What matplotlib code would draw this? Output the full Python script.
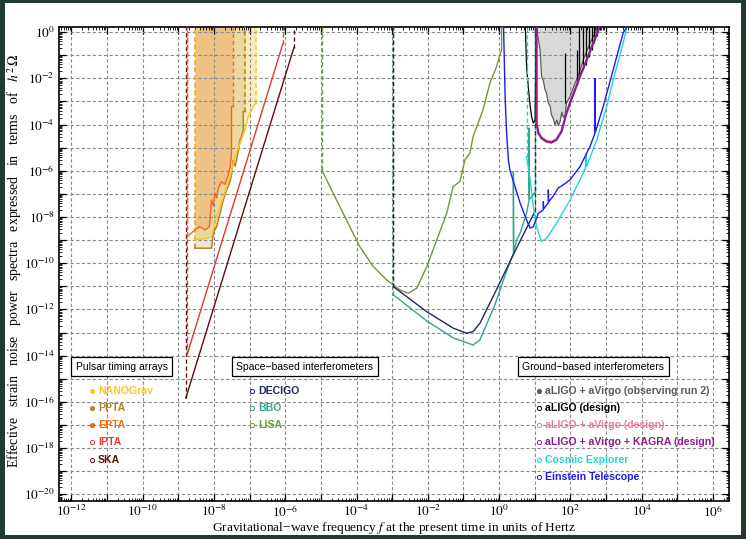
import numpy as np
import matplotlib
matplotlib.use('Agg')
import matplotlib.pyplot as plt
from matplotlib.patches import Rectangle
from matplotlib.ticker import FixedLocator, LogLocator, FuncFormatter, NullFormatter

plt.rcParams['font.family'] = ['Liberation Serif', 'DejaVu Serif']
plt.rcParams['mathtext.fontset'] = 'stix'

# all curves: log10(f / Hz) and log10(h^2 Omega)
# ---- pulsar timing arrays
nanograv_logf = [-8.54, -8.30, -8.07, -7.93, -7.74, -7.55, -7.41, -7.27, -7.13, -7.04, -6.90, -6.82]
nanograv_logomega = [-8.99, -8.95, -8.85, -7.98, -7.12, -6.25, -5.39, -4.81, -4.23, -3.65, -3.22, -3.07]
ppta_logf = [-8.54, -8.07, -8.02, -7.93, -7.83, -7.74, -7.65, -7.55, -7.51, -7.46, -7.41, -7.37,
             -7.32, -7.27, -7.23, -7.18, -7.18, -7.12]
ppta_logomega = [-9.35, -9.35, -8.70, -8.42, -7.84, -7.26, -6.83, -6.47, -6.18, -5.53, -5.82, -5.53,
                 -5.17, -4.66, -4.52, -4.23, -3.44, -3.44]
epta_logf = [-8.75, -8.54, -8.41, -8.25, -8.13, -8.07, -8.02, -7.97, -7.93, -7.88, -7.79, -7.70,
             -7.60, -7.55, -7.51, -7.51, -7.48]
epta_logomega = [-8.85, -8.56, -8.42, -8.56, -8.42, -7.26, -7.52, -6.96, -7.20, -6.75, -6.47, -6.60,
                 -6.18, -5.82, -5.30, -3.22, -3.22]
ipta_logf = [-8.75, -6.07]
ipta_logomega = [-13.93, -0.51]
ska_logf = [-8.79, -5.76]
ska_logomega = [-15.83, -0.68]

# ---- space-based interferometers
lisa_logf = [-4.98, -4.75, -4.47, -4.19, -3.91, -3.53, -3.16, -2.78, -2.55, -2.31, -2.03, -1.75,
             -1.47, -1.29, -1.10, -0.96, -0.82, -0.73, -0.59, -0.45, -0.26, -0.07, 0.02, 0.07, 0.07]
lisa_logomega = [-5.96, -6.68, -7.55, -8.42, -9.28, -10.15, -10.72, -11.16, -11.30, -11.08, -10.15, -8.99,
                 -7.84, -6.68, -6.47, -5.53, -5.24, -4.52, -3.94, -3.36, -2.21, -1.49, -0.98, -0.77, 0.5]
decigo_logf = [-2.97, -2.03, -1.29, -0.91, -0.73, -0.54, -0.12, 0.35, 1.01]
decigo_logomega = [-11.01, -12.10, -12.81, -13.03, -12.96, -12.60, -11.29, -9.78, -7.74]
bbo_logf = [-2.97, -2.03, -1.29, -0.73, -0.54, -0.12, 0.17, 0.40, 0.40, 0.41, 0.49, 0.59, 0.77,
            0.84, 0.84, 0.85, 0.96, 1.01]
bbo_logomega = [-11.37, -12.50, -13.23, -13.54, -13.32, -11.81, -10.51, -9.57, -6.03, -9.55, -8.99, -8.70,
                -7.84, -7.26, -4.14, -7.24, -7.04, -6.91]

# ---- ground-based interferometers
o2_logf = [1.05, 1.08, 1.15, 1.19, 1.24, 1.29, 1.33, 1.38, 1.43, 1.47, 1.52, 1.57, 1.62, 1.66, 1.71,
           1.76, 1.80, 1.85, 1.89, 1.99, 2.13, 2.22, 2.36, 2.55, 2.74, 2.77]
o2_logomega = [0.5, -0.12, -0.77, -1.92, -2.10, -2.50, -2.65, -3.07, -3.20, -3.58, -3.75, -4.01, -3.80,
               -4.05, -3.87, -3.45, -3.70, -3.58, -3.07, -2.79, -2.21, -1.92, -1.20, -0.48, 0.10, 0.53]
aligo_logf = [0.73, 0.77, 0.85, 0.91, 0.96, 1.01, 1.04]
aligo_logomega = [0.5, -1.49, -2.93, -3.65, -3.94, -3.80, 0.5]
aligo_line_logf = [1.85, 2.18, 2.25, 2.36, 2.44, 2.51, 2.60, 2.66, 2.75, 2.83]
aligo_line_low = [-3.07, -2.28, -1.94, -1.50, -1.41, -1.07, -0.77, -0.48, -0.17, 0.10]
aligo_line_high = [-0.90, -0.77, 0.5, 0.5, 0.5, 0.5, 0.5, 0.5, 0.5, 0.5]
hlv_logf = [1.05, 1.05, 1.10, 1.19, 1.33, 1.47, 1.61, 1.75, 1.89, 1.99, 2.13, 2.27, 2.46, 2.64, 2.83, 2.89]
hlv_logomega = [0.5, -3.89, -4.32, -4.54, -4.69, -4.73, -4.61, -4.25, -3.46, -3.02, -2.45, -1.87,
                -1.15, -0.43, 0.29, 0.55]
hlvk_logf = [1.05, 1.05, 1.10, 1.19, 1.33, 1.47, 1.61, 1.75, 1.89, 1.99, 2.13, 2.27, 2.46, 2.64, 2.83, 2.89]
hlvk_logomega = [0.5, -3.94, -4.37, -4.59, -4.74, -4.78, -4.66, -4.30, -3.51, -3.07, -2.50, -1.92,
                 -1.20, -0.48, 0.24, 0.53]
ce_logf = [0.77, 0.87, 0.96, 1.05, 1.19, 1.33, 1.61, 1.99, 2.36, 2.42, 2.44, 2.45, 2.74, 3.02, 3.20,
           3.48, 3.58, 3.61]
ce_logomega = [-5.39, -6.39, -7.55, -8.42, -9.06, -8.92, -8.27, -7.26, -6.10, -5.87, -5.24, -5.83, -4.66,
               -3.22, -2.06, -0.48, 0.19, 0.53]
et_logf = [0.12, 0.17, 0.21, 0.26, 0.30, 0.40, 0.59, 0.77, 0.87, 0.96, 1.10, 1.24, 1.24, 1.25, 1.38,
           1.38, 1.39, 1.52, 1.66, 1.80, 1.99, 2.27, 2.55, 2.69, 2.69, 2.70, 2.92, 3.20, 3.48, 3.62]
et_logomega = [0.5, -2.93, -4.37, -5.53, -5.96, -6.47, -7.40, -8.13, -8.48, -8.42, -7.84, -7.69, -7.33,
               -7.65, -7.39, -6.82, -7.35, -7.09, -6.74, -6.61, -6.39, -5.82, -4.95, -4.37, -1.99, -4.33,
               -3.22, -1.63, -0.04, 0.32]

# legend groups
pta_labels = ['NANOGrav', 'PPTA', 'EPTA', 'IPTA', 'SKA']
pta_colors = ['#fbc52c', '#b5832c', '#f26b1d', '#e2382b', '#5c0f0f']
pta_filled = [True, True, True, False, False]
space_labels = ['DECIGO', 'BBO', 'LISA']
space_colors = ['#1f2a5e', '#2fa78c', '#6c9a3f']
ground_labels = ['aLIGO + aVirgo (observing run 2)', 'aLIGO (design)', 'aLIGO + aVirgo (design)',
                 'aLIGO + aVirgo + KAGRA (design)', 'Cosmic Explorer', 'Einstein Telescope']
ground_colors = ['#5a5a5a', '#000000', '#e47f98', '#8c1d8c', '#1fd6d6', '#1c1cf5']
ground_filled = [True, False, False, False, False, False]

XLIM = (10 ** -12.35, 10 ** 6.45)
YLIM = (10 ** -20.29, 10 ** 0.22)
DASH = (0, (3, 2))

fig = plt.figure(figsize=(7.46, 5.39), dpi=100)
ax = fig.add_axes([59 / 746, 1 - 501 / 539, 670 / 746, 474 / 539])
ax.set_xscale('log')
ax.set_yscale('log')


def arr(logv):
    return 10.0 ** np.asarray(logv, dtype=float)


def curve(logf, logom, color, lw=1.0, left=False, right=False, zorder=3):
    f, om = arr(logf), arr(logom)
    ax.plot(f, om, color=color, lw=lw, zorder=zorder, solid_joinstyle='miter')
    # off-scale part of the band edges
    if left:
        ax.plot([f[0], f[0]], [om[0], YLIM[1]], color=color, lw=lw, ls=DASH, zorder=zorder)
    if right:
        ax.plot([f[-1], f[-1]], [om[-1], YLIM[1]], color=color, lw=lw, ls=DASH, zorder=zorder)


def shade(logf, logom, color, alpha, start=0):
    f, om = arr(logf)[start:], arr(logom)[start:]
    ax.fill_between(f, om, YLIM[1], color=color, alpha=alpha, lw=0, zorder=1)


# shaded regions (current PTA limits and O2)
shade(nanograv_logf, nanograv_logomega, pta_colors[0], 0.32)
shade(ppta_logf, ppta_logomega, pta_colors[1], 0.2)
shade(epta_logf, epta_logomega, pta_colors[2], 0.2, start=1)
ax.fill_between(arr(o2_logf), arr(o2_logomega), YLIM[1], color='#d9d9d9', lw=0, zorder=1)

# PTA curves
curve(ska_logf, ska_logomega, pta_colors[4], left=True, right=True)
curve(ipta_logf, ipta_logomega, pta_colors[3], left=True, right=True)
curve(ppta_logf, ppta_logomega, pta_colors[1], lw=1.1, left=True, right=True)
curve(nanograv_logf, nanograv_logomega, pta_colors[0], lw=1.1, left=True, right=True)
curve(epta_logf, epta_logomega, pta_colors[2], lw=1.0, left=True, right=True)

# space-based
curve(lisa_logf, lisa_logomega, space_colors[2], left=True)
curve(bbo_logf, bbo_logomega, space_colors[1], left=True, right=True)
curve(decigo_logf, decigo_logomega, space_colors[0], left=True, right=True)

# ground-based
curve(o2_logf, o2_logomega, ground_colors[0], lw=0.9)
curve(aligo_logf, aligo_logomega, ground_colors[1], lw=0.9)
ax.vlines(arr(aligo_line_logf), arr(aligo_line_low), arr(aligo_line_high), color='black', lw=0.9, zorder=3)
curve(hlv_logf, hlv_logomega, ground_colors[2], lw=1.0)
curve(hlvk_logf, hlvk_logomega, ground_colors[3], lw=1.6)
curve(ce_logf, ce_logomega, ground_colors[4], lw=1.0, left=True)
curve(et_logf, et_logomega, ground_colors[5], lw=1.0)

ax.set_xlim(*XLIM)
ax.set_ylim(*YLIM)


def decade_label(v, pos):
    e = int(round(np.log10(v)))
    return r'$10^{%d}$' % e if e % 2 == 0 else ''


for axis, lo, hi in ((ax.xaxis, -12, 7), (ax.yaxis, -20, 1)):
    axis.set_major_locator(FixedLocator(10.0 ** np.arange(lo, hi)))
    axis.set_major_formatter(FuncFormatter(decade_label))
    axis.set_minor_locator(LogLocator(base=10, subs=np.arange(2, 10), numticks=200))
    axis.set_minor_formatter(NullFormatter())

ax.tick_params(which='both', direction='in', top=True, right=True, labelsize=9.6)
ax.tick_params(which='major', length=5, width=0.9, pad=3)
ax.tick_params(axis='x', which='major', pad=2)
ax.tick_params(which='minor', length=2.5, width=0.6)
ax.set_axisbelow(False)
ax.grid(True, which='major', ls=DASH, color='#8a8a8a', lw=0.8)
for s in ax.spines.values():
    s.set_linewidth(1.2)

ax.set_xlabel('Gravitational\u2212wave frequency $f$ at the present time in units of Hertz', fontsize=9.6)
ax.xaxis.set_label_coords(0.5, -0.041)
ax.set_ylabel('Effective   strain   noise   power   spectra   expressed   in   terms   of   $h^2\\,\\Omega$',
              fontsize=10)
ax.yaxis.set_label_coords(-0.052, 0.507)

# group titles
box = dict(boxstyle='square,pad=0.45', fc='white', ec='black', lw=0.9)
for x, title in ((0.0936, 'Pulsar timing arrays'), (0.3667, 'Space\u2212based interferometers'),
                 (0.7975, 'Ground\u2212based interferometers')):
    ax.text(x, 0.2835, title, transform=ax.transAxes, ha='center', va='center', fontsize=7.5,
            family='Liberation Sans', bbox=box, zorder=5)

# legend entries
row_y = 0.2327 - 0.0363 * np.arange(6)


def legend_column(xm, labels, colors, filled):
    for i, (lab, col, fl) in enumerate(zip(labels, colors, filled)):
        ax.plot([xm], [row_y[i]], 'o', transform=ax.transAxes, ms=3, mec=col, mew=0.7,
                mfc=col if fl else 'white', zorder=4, clip_on=False)
        ax.text(xm + 0.0095, row_y[i], lab, transform=ax.transAxes, color=col, fontsize=7.6,
                fontweight='bold', family='Liberation Sans', va='center', ha='left', zorder=4)


legend_column(0.0488, pta_labels, pta_colors, pta_filled)
legend_column(0.2876, space_labels, space_colors, [False] * 3)
legend_column(0.7164, ground_labels, ground_colors, ground_filled)

# dark frame around the figure
edge = '#213c2e'
for rect in ((0, 0, 5 / 746, 1), (0, 1 - 3 / 539, 1, 3 / 539), (1 - 5 / 746, 0, 5 / 746, 1), (0, 0, 1, 4 / 539)):
    fig.add_artist(Rectangle(rect[:2], rect[2], rect[3], transform=fig.transFigure, fc=edge, ec='none'))

fig.savefig('out.png', dpi=100)
